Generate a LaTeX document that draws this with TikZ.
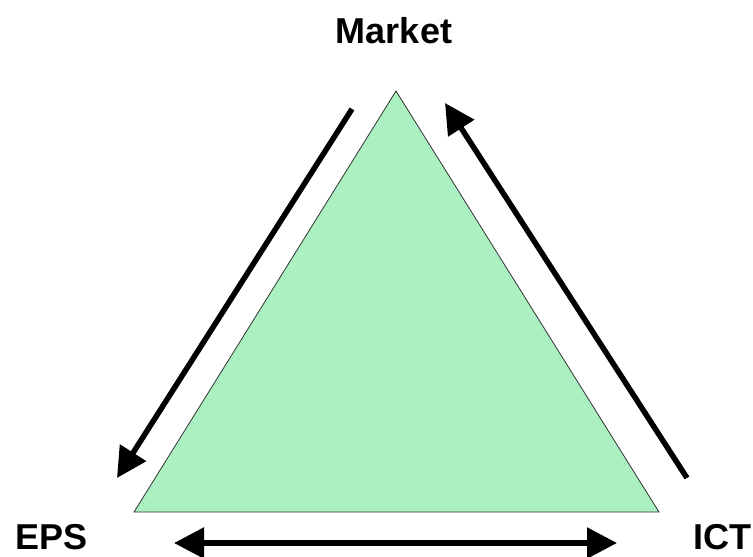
\documentclass[tikz,border=0pt]{standalone}
\usepackage{fontspec}
\setmainfont{Liberation Sans}
\usetikzlibrary{arrows.meta}
\definecolor{trigreen}{RGB}{170,240,192}
\begin{document}
\begin{tikzpicture}[x=1pt,y=-1pt,
  lbl/.style={font=\fontsize{36}{40}\selectfont\bfseries, inner sep=0pt},
  bigarrow/.style={line width=5.5pt, -{Triangle[length=30pt,width=30pt]}},
  dblarrow/.style={line width=5.5pt, {Triangle[length=30pt,width=30pt]}-{Triangle[length=30pt,width=30pt]}}]
\useasboundingbox (0,0) rectangle (753,557);
\coordinate (top) at (396,91);
\coordinate (bl) at (134,512);
\coordinate (br) at (659,512);
\fill[trigreen] (top) -- (bl) -- (br) -- cycle;
\draw[line width=0.8pt, black!80] (top) -- (bl) -- (br) -- cycle;
\node[lbl, anchor=base] (market) at (394,43) {Market};
\node[lbl, anchor=base west] (eps) at (15,549) {EPS};
\node[lbl, anchor=base east] (ict) at (752,549) {ICT};
\coordinate (la1) at (352,109);
\coordinate (la2) at (117,478);
\coordinate (ra1) at (687,478);
\coordinate (ra2) at (445,103);
\coordinate (ba1) at (174,543);
\coordinate (ba2) at (617,543);
\draw[bigarrow] (la1) -- (la2);
\draw[bigarrow] (ra1) -- (ra2);
\draw[dblarrow] (ba1) -- (ba2);
\end{tikzpicture}
\end{document}
